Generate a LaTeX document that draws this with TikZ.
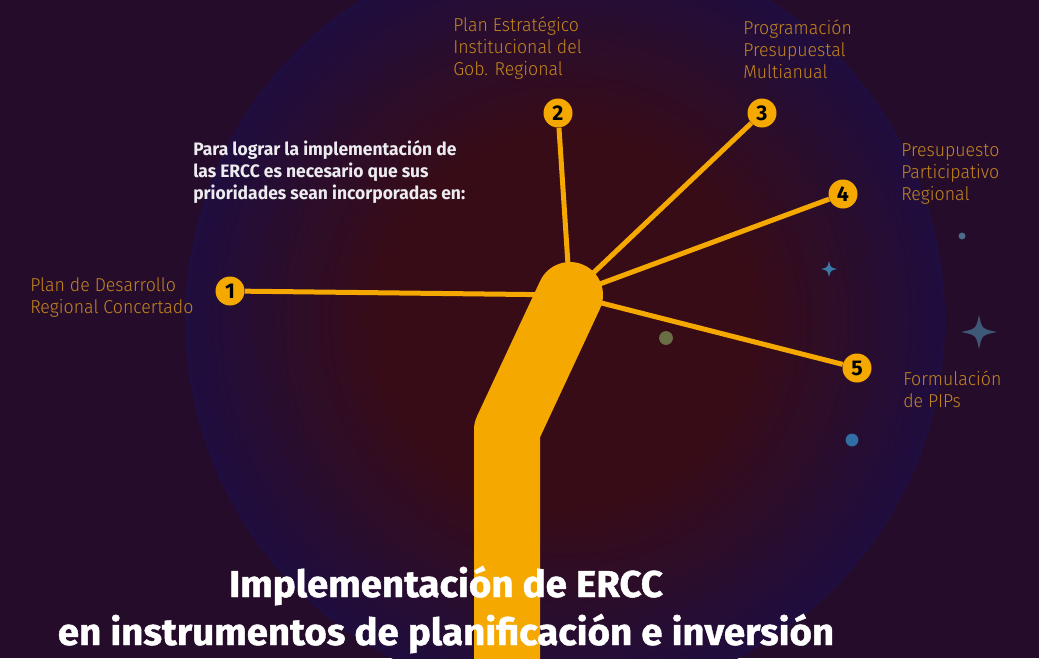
\documentclass[tikz,border=0pt]{standalone}
\usepackage{fontspec}
\setmainfont{Fira Sans}
\newfontfamily\lblfont{Fira Sans Light}[FakeStretch=0.95]
\newfontfamily\introfont{Fira Sans}[FakeStretch=0.97]
\newfontfamily\titlefont{Fira Sans}[FakeStretch=1.03,FakeBold=1.2]
\definecolor{bgpurple}{RGB}{38,12,43}
\definecolor{glownavy}{RGB}{23,14,76}
\definecolor{glowred}{RGB}{56,12,22}
\definecolor{amber}{RGB}{245,168,0}
\definecolor{lblcol}{RGB}{196,134,30}
\definecolor{introcol}{RGB}{236,236,240}
\definecolor{starbig}{RGB}{62,88,120}
\definecolor{starsmall}{RGB}{58,120,168}
\definecolor{dotolive}{RGB}{106,110,69}
\definecolor{dotblue}{RGB}{47,111,165}
\definecolor{dotgrey}{RGB}{74,109,138}
\pgfdeclareradialshading{glow}{\pgfpoint{0bp}{0bp}}{color(0bp)=(glowred); color(12bp)=(glowred); color(29bp)=(glownavy); color(41bp)=(glownavy); color(49bp)=(bgpurple); color(50bp)=(bgpurple)}
\begin{document}
\begin{tikzpicture}[x=0.75pt,y=-0.75pt,
  numdot/.style={circle, fill=amber, inner sep=0pt, minimum size=21.75pt,
    font=\bfseries\fontsize{16pt}{16pt}\selectfont, text=black},
  spoke/.style={draw=amber, line width=3.75pt},
  trunk/.style={draw=amber, line width=49.5pt, line cap=round, line join=round},
  lbl/.style={font=\lblfont\fontsize{14pt}{16.5pt}\selectfont, text=lblcol, align=left, inner sep=0pt, anchor=base west},
  intro/.style={font=\introfont\bfseries\fontsize{13.5pt}{16.5pt}\selectfont, text=introcol, align=left, inner sep=0pt, anchor=base west},
  ttl/.style={font=\titlefont\bfseries\fontsize{28pt}{28pt}\selectfont, text=white, inner sep=0pt, anchor=base}]
\useasboundingbox (0,0) rectangle (1039,658);
\clip (0,0) rectangle (1039,658);
\fill[bgpurple] (0,0) rectangle (1039,658);
\shade[shading=glow] (565,320) circle[radius=285pt];

% decorations
\fill[starbig] (979,315) .. controls (982,329) .. (997,332) .. controls (982,335) .. (979,349) .. controls (976,335) .. (961,332) .. controls (976,329) .. cycle;
\fill[starsmall] (829,261) .. controls (830.5,267.5) .. (837,269) .. controls (830.5,270.5) .. (829,277) .. controls (827.5,270.5) .. (821,269) .. controls (827.5,267.5) .. cycle;
\fill[dotgrey] (962,236) circle[radius=2.6pt];
\fill[dotolive] (666,338) circle[radius=5.2pt];
\fill[dotblue] (852,440) circle[radius=4.8pt];

% hub and trunk geometry
\coordinate (hub) at (570,295);
\coordinate (bend) at (507,430);
\coordinate (foot) at (507,720);

% numbered nodes
\node[numdot] (n1) at (230,291) {1};
\node[numdot] (n2) at (558,113) {2};
\node[numdot] (n3) at (762,113) {3};
\node[numdot] (n4) at (843,194) {4};
\node[numdot] (n5) at (857,368) {5};

% spokes
\draw[spoke] (n1) -- (hub);
\draw[spoke] (n2) -- (hub);
\draw[spoke] (n3) -- (hub);
\draw[spoke] (n4) -- (hub);
\draw[spoke] (n5) -- (hub);

% trunk
\draw[trunk] (hub) -- (bend) -- (foot);

% labels (anchor = baseline of last line)
\node[lbl] (l1) at (30,313) {Plan de Desarrollo\\Regional Concertado};
\node[lbl] (l2) at (453,75) {Plan Estratégico\\Institucional del\\Gob. Regional};
\node[lbl] (l3) at (743,78) {Programación\\Presupuestal\\Multianual};
\node[lbl] (l4) at (901,200) {Presupuesto\\Participativo\\Regional};
\node[lbl] (l5) at (903,407) {Formulación\\de PIPs};

\node[intro] (intro) at (193,199) {Para lograr la implementación de\\las ERCC es necesario que sus\\prioridades sean incorporadas en:};

\node[ttl] (t1) at (446,597) {Implementación de ERCC};
\node[ttl] (t2) at (446,645) {en instrumentos de planificación e inversión};
\end{tikzpicture}
\end{document}
